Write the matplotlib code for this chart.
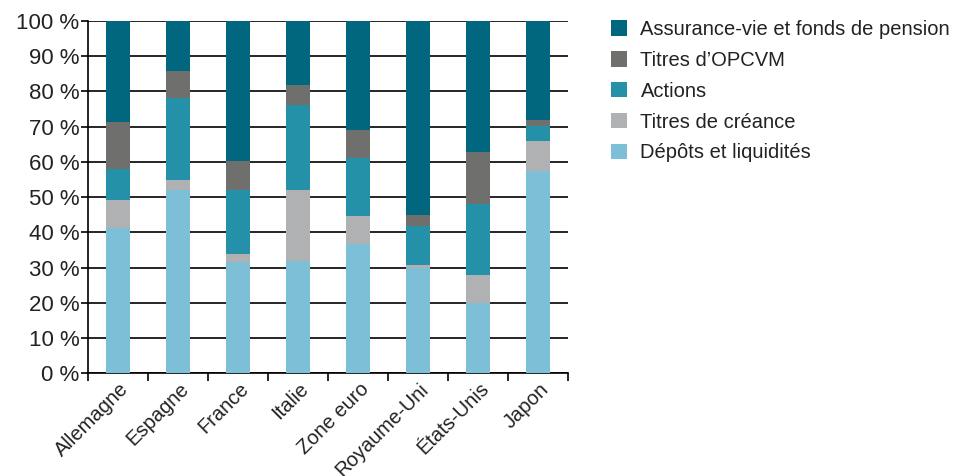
import numpy as np
import matplotlib.pyplot as plt

plt.rcParams['font.family'] = ['Liberation Sans', 'DejaVu Sans']

pays = ['Allemagne', 'Espagne', 'France', 'Italie', 'Zone euro',
        'Royaume-Uni', 'États-Unis', 'Japon']
depots = [41.2, 52.0, 31.6, 31.8, 36.8, 30.0, 19.8, 57.4]
creances = [7.9, 2.8, 2.2, 20.2, 7.9, 0.7, 8.1, 8.5]
actions = [8.8, 23.4, 18.2, 24.1, 16.5, 11.2, 20.2, 4.3]
opcvm = [13.4, 7.5, 8.2, 5.8, 7.9, 3.0, 14.7, 1.7]
assurance = [28.7, 14.3, 39.8, 18.1, 30.9, 55.1, 37.2, 28.1]

series = [
    ('Dépôts et liquidités', depots, '#7DBFD6'),
    ('Titres de créance', creances, '#B0B1B3'),
    ('Actions', actions, '#2591A8'),
    ('Titres d\u2019OPCVM', opcvm, '#6F6F6E'),
    ('Assurance-vie et fonds de pension', assurance, '#00677F'),
]

fig = plt.figure(figsize=(9.56, 4.76), dpi=100)
ax = fig.add_axes([0.092, 0.216, 0.502, 0.740])

x = np.arange(len(pays))
bottom = np.zeros(len(pays))
handles = []
for nom, vals, col in series:
    b = ax.bar(x, vals, 0.4, bottom=bottom, color=col, label=nom, zorder=3)
    handles.append(b)
    bottom += np.array(vals)

ax.set_xlim(-0.5, len(pays) - 0.5)
ax.set_ylim(0, 100)
ax.set_yticks(np.arange(0, 101, 10))
ax.set_yticklabels([f'{v} %' for v in range(0, 101, 10)], fontsize=16, color='#222222')
ax.yaxis.grid(True, color='black', linewidth=1.2, zorder=0)

# labels des pays, inclinés
ax.set_xticks(x)
ax.set_xticklabels([])
ax.tick_params(axis='x', which='major', length=0)
for i, p in enumerate(pays):
    ax.annotate(p, xy=(i, 0), xycoords=('data', 'axes fraction'),
                xytext=(1, -6), textcoords='offset pixels', rotation=45,
                ha='right', va='top', rotation_mode='anchor',
                fontsize=14.5, color='#222222')
ax.set_xticks(np.arange(-0.5, len(pays)), minor=True)
ax.tick_params(axis='x', which='minor', length=6, width=1.2, direction='out')
ax.tick_params(axis='y', length=5, width=1.2, pad=1)

for s in ['top', 'right']:
    ax.spines[s].set_visible(False)
for s in ['left', 'bottom']:
    ax.spines[s].set_linewidth(1.2)

fig.legend(handles[::-1], [s[0] for s in series][::-1], loc='upper left',
           bbox_to_anchor=(0.631, 0.975), frameon=False, fontsize=14.5,
           handlelength=0.8, handleheight=0.8, handletextpad=0.65,
           labelspacing=0.59, borderaxespad=0, labelcolor='#222222')

fig.savefig('out.png', dpi=100)
